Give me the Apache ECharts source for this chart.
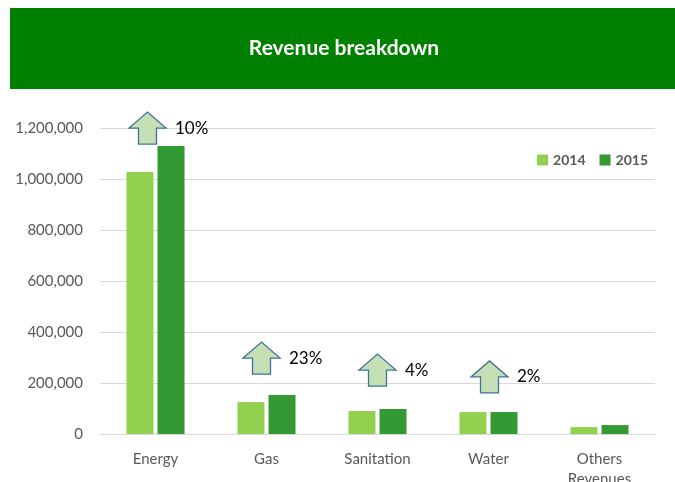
<!DOCTYPE html>
<html><head><meta charset="utf-8">
<script src="https://cdn.jsdelivr.net/npm/echarts@6/dist/echarts.min.js"></script>
<style>html,body{margin:0;padding:0;background:#fff}#c{width:675px;height:482px}</style>
</head><body><div id="c"></div>
<script>
const categories = ['Energy', 'Gas', 'Sanitation', 'Water', 'Others\nRevenues'];
const values2014 = [1027000, 125000, 90000, 86000, 27000];
const values2015 = [1129000, 153000, 98000, 86000, 35000];
const growthLabels = ['10%', '23%', '4%', '2%'];
const arrowBase = [1137000, 235000, 188000, 161000];
const arrowShift = [-8, -5, 0, 1];
const yTicks = [0, 200000, 400000, 600000, 800000, 1000000, 1200000];

const FONT = 'Lato, "Noto Sans", sans-serif';
const chart = echarts.init(document.getElementById('c'), null, {renderer: 'canvas'});

const arrowData = growthLabels.map((g, i) => [i, arrowBase[i], g, arrowShift[i]]);

chart.setOption({
  animation: false,
  textStyle: {fontFamily: FONT},
  graphic: [
    {type: 'rect', shape: {x: 10, y: 8, width: 665, height: 81}, style: {fill: '#008000'}, z: 0},
    {type: 'text', x: 344, y: 48, style: {text: 'Revenue breakdown', fill: '#fff', font: 'bold 21px ' + FONT, textAlign: 'center', textVerticalAlign: 'middle'}, z: 1}
  ],
  legend: {
    right: 22, top: 148, itemWidth: 11, itemHeight: 11, itemGap: 14,
    icon: 'rect',
    textStyle: {color: '#595959', fontSize: 14, fontWeight: 'bold', fontFamily: FONT},
    data: ['2014', '2015']
  },
  grid: {left: 100, right: 20, top: 128, bottom: 48, outerBoundsMode: 'none', containLabel: false},
  xAxis: {
    type: 'category', data: categories,
    axisLine: {lineStyle: {color: '#d9d9d9'}},
    axisTick: {show: false},
    axisLabel: {color: '#595959', fontSize: 15, margin: 15, lineHeight: 20, fontFamily: FONT}
  },
  yAxis: {
    type: 'value', min: 0, max: 1200000, interval: 200000,
    axisLine: {show: false}, axisTick: {show: false},
    splitLine: {lineStyle: {color: '#d9d9d9'}},
    axisLabel: {color: '#595959', fontSize: 15, margin: 17, fontFamily: FONT,
      formatter: v => v.toLocaleString('en-US')}
  },
  series: [
    {name: '2014', type: 'bar', data: values2014, barWidth: 27, barGap: '15%', itemStyle: {color: '#92d050'}},
    {name: '2015', type: 'bar', data: values2015, barWidth: 27, itemStyle: {color: '#339933'}},
    {
      type: 'custom', data: arrowData, z: 5,
      renderItem: function (params, api) {
        const p = api.coord([api.value(0), api.value(1)]);
        const cx = p[0] + api.value(3);
        const by = p[1];
        const W = 37, H = 32, head = 16, sw = 18;
        const pts = [
          [cx - sw / 2, by], [cx + sw / 2, by], [cx + sw / 2, by - H + head],
          [cx + W / 2, by - H + head], [cx, by - H], [cx - W / 2, by - H + head],
          [cx - sw / 2, by - H + head]
        ];
        return {
          type: 'group',
          children: [
            {type: 'polygon', shape: {points: pts}, style: {fill: '#c5e0b4', stroke: '#41719c', lineWidth: 1.3}},
            {type: 'text', style: {text: arrowData[params.dataIndex][2], x: cx + W / 2 + 9, y: by - H / 2, fill: '#000', font: '17px ' + FONT, textVerticalAlign: 'middle'}}
          ]
        };
      }
    }
  ]
});
</script></body></html>
